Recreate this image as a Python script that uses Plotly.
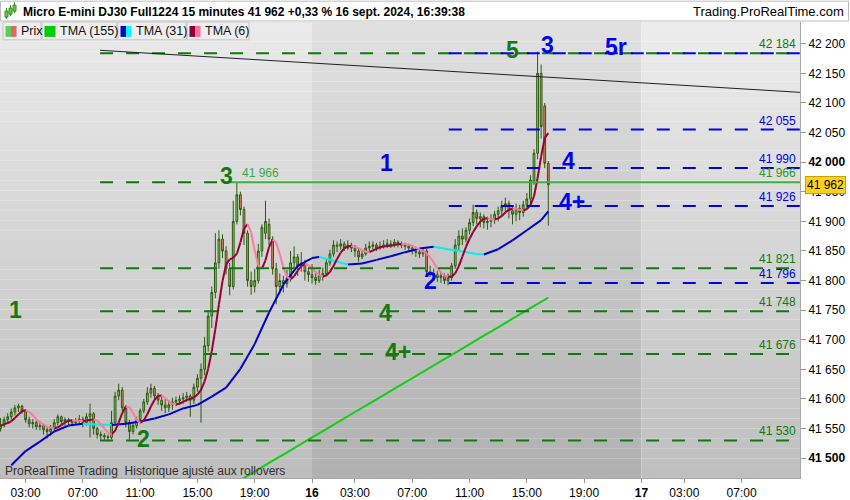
import numpy as np
import pandas as pd
import plotly.graph_objects as go

FONT = "Liberation Sans, Arial, sans-serif"

# 15-minute bars, numbered from 00:00 on the 15th (one-hour break 23:00-00:00)
first_bar = 5
opens = [
    41550, 41555, 41565, 41570, 41578, 41585, 41588, 41580,
    41565, 41558, 41560, 41553, 41555, 41548, 41545, 41550,
    41560, 41570, 41562, 41565, 41563, 41560, 41562, 41566,
    41560, 41570, 41575, 41550, 41540, 41538, 41536, 41535,
    41560, 41605, 41615, 41585, 41560, 41545, 41555, 41565,
    41580, 41595, 41610, 41618, 41605, 41598, 41590, 41585,
    41590, 41595, 41597, 41600, 41602, 41605, 41598, 41620,
    41635, 41650, 41690, 41740, 41780, 41830, 41870, 41850,
    41820, 41790, 41900, 41945, 41920, 41880, 41800, 41790,
    41800, 41850, 41880, 41895, 41870, 41820, 41790, 41800,
    41795, 41805, 41830, 41840, 41825, 41830, 41815, 41810,
    41805, 41800, 41810, 41812, 41830, 41845, 41860, 41858,
    41862, 41855, 41860, 41855, 41850, 41840, 41845, 41855,
    41858, 41860, 41855, 41858, 41860, 41862, 41860, 41865,
    41862, 41860, 41858, 41855, 41850, 41848, 41845, 41850,
    41815, 41812, 41810, 41805, 41808, 41800, 41805, 41825,
    41860, 41875, 41870, 41885, 41898, 41915, 41905, 41908,
    41898, 41900, 41905, 41912, 41918, 41925, 41930, 41918,
    41912, 41922, 41915, 41928, 41938, 41968, 42015, 42150,
    42095, 41998,
]
highs = [
    41568, 41570, 41576, 41584, 41590, 41592, 41590, 41583,
    41570, 41566, 41563, 41562, 41558, 41552, 41556, 41566,
    41574, 41572, 41569, 41568, 41566, 41568, 41573, 41570,
    41576, 41592, 41578, 41553, 41545, 41542, 41540, 41580,
    41612, 41626, 41620, 41590, 41565, 41560, 41570, 41584,
    41600, 41620, 41626, 41622, 41610, 41604, 41600, 41598,
    41602, 41604, 41606, 41610, 41612, 41608, 41626, 41642,
    41660, 41705, 41750, 41790, 41880, 41885, 41878, 41858,
    41830, 41935, 41966, 41950, 41925, 41885, 41815, 41820,
    41862, 41895, 41935, 41905, 41875, 41830, 41812, 41808,
    41818, 41850, 41858, 41845, 41848, 41835, 41822, 41828,
    41812, 41818, 41822, 41838, 41852, 41868, 41866, 41870,
    41866, 41868, 41864, 41860, 41855, 41852, 41862, 41866,
    41866, 41864, 41866, 41868, 41870, 41868, 41870, 41868,
    41866, 41864, 41862, 41860, 41855, 41852, 41856, 41854,
    41825, 41820, 41816, 41815, 41812, 41812, 41830, 41870,
    41885, 41888, 41890, 41905, 41928, 41920, 41915, 41912,
    41908, 41912, 41918, 41925, 41935, 41940, 41935, 41925,
    41930, 41928, 41935, 41948, 41978, 42022, 42187, 42165,
    42100, 42002,
]
lows = [
    41545, 41552, 41558, 41565, 41572, 41578, 41575, 41560,
    41552, 41550, 41548, 41547, 41540, 41533, 41538, 41546,
    41555, 41556, 41555, 41556, 41554, 41556, 41558, 41552,
    41555, 41535, 41540, 41533, 41531, 41530, 41528, 41532,
    41556, 41598, 41580, 41552, 41531, 41540, 41550, 41560,
    41576, 41590, 41602, 41598, 41590, 41580, 41576, 41578,
    41582, 41588, 41590, 41592, 41595, 41570, 41592, 41612,
    41560, 41640, 41680, 41720, 41770, 41820, 41838, 41810,
    41775, 41785, 41895, 41910, 41860, 41790, 41776, 41780,
    41795, 41840, 41870, 41860, 41810, 41760, 41778, 41780,
    41788, 41798, 41820, 41808, 41815, 41800, 41798, 41795,
    41793, 41796, 41800, 41808, 41825, 41840, 41848, 41852,
    41850, 41852, 41848, 41840, 41832, 41836, 41842, 41850,
    41852, 41850, 41852, 41854, 41855, 41855, 41856, 41856,
    41855, 41852, 41848, 41844, 41840, 41838, 41840, 41808,
    41806, 41800, 41798, 41796, 41794, 41792, 41800, 41820,
    41850, 41860, 41865, 41878, 41892, 41895, 41890, 41888,
    41886, 41890, 41896, 41900, 41910, 41916, 41905, 41895,
    41900, 41902, 41908, 41920, 41930, 41962, 42005, 42040,
    41990, 41893,
]
closes = [
    41555, 41565, 41570, 41578, 41585, 41588, 41580, 41565,
    41558, 41560, 41553, 41555, 41548, 41545, 41550, 41560,
    41570, 41562, 41565, 41563, 41560, 41562, 41566, 41560,
    41570, 41575, 41550, 41540, 41538, 41536, 41535, 41560,
    41605, 41615, 41585, 41560, 41545, 41555, 41565, 41580,
    41595, 41610, 41618, 41605, 41598, 41590, 41585, 41590,
    41595, 41597, 41600, 41602, 41605, 41598, 41620, 41635,
    41650, 41690, 41740, 41780, 41830, 41870, 41850, 41820,
    41790, 41900, 41945, 41920, 41880, 41800, 41790, 41800,
    41850, 41890, 41900, 41870, 41820, 41790, 41800, 41795,
    41805, 41830, 41840, 41825, 41830, 41815, 41810, 41805,
    41800, 41810, 41812, 41830, 41845, 41860, 41858, 41862,
    41855, 41860, 41855, 41850, 41840, 41845, 41855, 41858,
    41860, 41855, 41858, 41860, 41862, 41860, 41865, 41862,
    41860, 41858, 41855, 41850, 41848, 41845, 41850, 41815,
    41812, 41810, 41805, 41808, 41800, 41805, 41825, 41860,
    41875, 41870, 41885, 41898, 41915, 41905, 41908, 41898,
    41900, 41905, 41912, 41918, 41925, 41930, 41918, 41912,
    41922, 41915, 41928, 41938, 41970, 42015, 42150, 42060,
    41998, 41962,
]
bars = list(range(first_bar, first_bar + len(closes)))

# TMA (31) and TMA (155), hourly
tma31_bars = [8, 12, 16, 20, 24, 28, 32, 36, 40, 44, 48, 52, 56, 60, 64, 68, 72, 76,
              80, 84, 88, 92, 94, 98, 102, 106, 110, 114, 118, 122, 126, 130, 134,
              138, 140, 144, 148, 152, 156, 158]
tma31_vals = [41488, 41512, 41528, 41545, 41555, 41558, 41557, 41556, 41558, 41562,
              41567, 41574, 41584, 41590, 41604, 41619, 41651, 41693, 41746, 41793,
              41825, 41838, 41840, 41834, 41827, 41829, 41835, 41841, 41848, 41854,
              41857, 41853, 41849, 41845, 41844, 41853, 41868, 41885, 41902, 41917]
tma155_bars = [72, 76, 80, 84, 88, 92, 96, 100, 104, 108, 112, 116, 120, 124, 128,
               132, 136, 140, 144, 148, 152, 156, 158]
tma155_vals = [41463, 41478, 41492, 41506, 41521, 41535, 41549, 41564, 41578, 41592,
               41607, 41621, 41635, 41650, 41664, 41678, 41693, 41707, 41721, 41736,
               41750, 41764, 41771]

green_levels = [42184, 41821, 41748, 41676, 41530]
blue_levels = [42184, 42055, 41990, 41926, 41796]
level_3 = 41966
trend_prices = [42189, 42118]

wave_text = ["1", "2", "3", "4", "4+", "5", "1", "2", "3", "4", "4+", "5r"]
wave_bar = [9.3, 44.8, 68.0, 112.4, 116.0, 147.9, 112.7, 125.0, 157.9, 163.5, 164.6, 176.9]
wave_price = [41751, 41532, 41977, 41746, 41679, 42190, 41999, 41800, 42198, 42002, 41932, 42195]
wave_green = [True] * 6 + [False] * 6

x_ticks = [12, 28, 44, 60, 76, 92, 104, 120, 136, 152, 168, 184, 196, 212]
x_labels = ["03:00", "07:00", "11:00", "15:00", "19:00", "<b>16</b>", "03:00", "07:00",
            "11:00", "15:00", "19:00", "<b>17</b>", "03:00", "07:00"]
y_ticks = list(range(41500, 42201, 50))

X0, X1 = 4.85, 228.3
Y0, Y1 = 41466.5, 42236.8
GREEN = "#0E7A0E"
BLUE = "#0000F0"


def fmt(v):
    return f"{v // 1000} {v % 1000:03d}"


def split_updown(xs, ys):
    up = ([], [])
    dn = ([], [])
    for k in range(len(xs) - 1):
        tgt = up if ys[k + 1] >= ys[k] else dn
        tgt[0].extend([xs[k], xs[k + 1], None])
        tgt[1].extend([ys[k], ys[k + 1], None])
    return up, dn


fig = go.Figure()

fig.add_trace(go.Candlestick(
    x=bars, open=opens, high=highs, low=lows, close=closes,
    increasing=dict(fillcolor="#78DC50", line=dict(color="#2D5A12", width=1)),
    decreasing=dict(fillcolor="#F0806E", line=dict(color="#2D5A12", width=1)),
    whiskerwidth=0, hoverinfo="skip"))

# TMA 155
fig.add_trace(go.Scatter(x=tma155_bars, y=tma155_vals, mode="lines",
                         line=dict(color="#10D010", width=2), hoverinfo="skip"))

# TMA 31: blue rising, cyan falling
up, dn = split_updown(tma31_bars, tma31_vals)
fig.add_trace(go.Scatter(x=up[0], y=up[1], mode="lines", line=dict(color="#0000CC", width=2)))
fig.add_trace(go.Scatter(x=dn[0], y=dn[1], mode="lines", line=dict(color="#00F0F0", width=2)))

# TMA 6 from closes: crimson rising, pink falling
tma6 = pd.Series(closes).rolling(3, min_periods=1).mean().rolling(4, min_periods=1).mean()
up, dn = split_updown(bars, list(tma6.round(1)))
fig.add_trace(go.Scatter(x=up[0], y=up[1], mode="lines", line=dict(color="#990036", width=2)))
fig.add_trace(go.Scatter(x=dn[0], y=dn[1], mode="lines", line=dict(color="#FF78A0", width=2)))

shapes = []
# day shading with a vertical gradient
n_bands = 46
for x_a, x_b, top, bot in [(X0, 92, 234, 190), (92, 184, 225, 176), (184, X1, 237, 190)]:
    for k in range(n_bands):
        g = int(round(bot + (top - bot) * (k + 0.5) / n_bands))
        shapes.append(dict(type="rect", xref="x", yref="paper", x0=x_a, x1=x_b,
                           y0=k / n_bands, y1=(k + 1) / n_bands, layer="below",
                           fillcolor=f"rgb({g},{g},{g})", line=dict(width=0)))

for lv in green_levels:
    shapes.append(dict(type="line", xref="x", yref="y", x0=32.8, x1=X1, y0=lv, y1=lv,
                       line=dict(color=GREEN, width=2, dash="13px,13px")))
shapes.append(dict(type="line", xref="x", yref="y", x0=32.8, x1=69, y0=level_3, y1=level_3,
                   line=dict(color=GREEN, width=2, dash="13px,13px")))
shapes.append(dict(type="line", xref="x", yref="y", x0=69, x1=X1, y0=level_3, y1=level_3,
                   line=dict(color="#3CB43C", width=2)))
for lv in blue_levels:
    shapes.append(dict(type="line", xref="x", yref="y", x0=130.2, x1=X1, y0=lv, y1=lv,
                       line=dict(color=BLUE, width=2, dash="13px,13px")))
shapes.append(dict(type="line", xref="x", yref="y", x0=32.8, x1=X1,
                   y0=trend_prices[0], y1=trend_prices[1], line=dict(color="#202020", width=1)))


# header and legend strip (paper coords: 800 px wide plot, 460 px tall)
def px(x):
    return x / 800


def py(y):
    return (482 - y) / 460


shapes.append(dict(type="rect", xref="paper", yref="paper", x0=px(0.5), x1=px(848.5),
                   y0=py(21), y1=py(1), line=dict(color="#BBBBBB", width=1), fillcolor="white"))
legend_items = [("Prix", 3, 41, ["#58D058", "#E86464"]),
                ("TMA (155)", 42, 117, ["#00CC00", "#00CC00"]),
                ("TMA (31)", 118, 186, ["#0000CC", "#00FFFF"]),
                ("TMA (6)", 187, 249, ["#8B0036", "#FF6A96"])]
annotations = []
for name, xa, xb, cols in legend_items:
    shapes.append(dict(type="rect", xref="paper", yref="paper", x0=px(xa), x1=px(xb),
                       y0=py(40), y1=py(22), fillcolor="#EEEEEE", line=dict(color="#C4C4C4", width=1)))
    shapes.append(dict(type="rect", xref="paper", yref="paper", x0=px(xa + 2.5), x1=px(xa + 8),
                       y0=py(37), y1=py(26), fillcolor=cols[0], line=dict(width=0)))
    shapes.append(dict(type="rect", xref="paper", yref="paper", x0=px(xa + 8), x1=px(xa + 13.5),
                       y0=py(37), y1=py(26), fillcolor=cols[1], line=dict(width=0)))
    annotations.append(dict(xref="paper", yref="paper", x=px(xa + 16), y=py(31), text=name,
                            showarrow=False, xanchor="left", yanchor="middle",
                            font=dict(size=12.5, color="#111")))
# little candle icon
for cx, ya, yb in [(6.5, 17, 9), (10.5, 14, 6), (14.5, 11, 3)]:
    shapes.append(dict(type="line", xref="paper", yref="paper", x0=px(cx), x1=px(cx),
                       y0=py(ya + 2), y1=py(yb - 1), line=dict(color="#3A8A2A", width=1)))
    shapes.append(dict(type="rect", xref="paper", yref="paper", x0=px(cx - 1.5), x1=px(cx + 1.5),
                       y0=py(ya), y1=py(yb + 2), fillcolor="#66CC44", line=dict(color="#3A8A2A", width=1)))

annotations.append(dict(xref="paper", yref="paper", x=px(21), y=py(11.5),
                        text="<b>Micro E-mini DJ30 Full1224 15 minutes 41 962 +0,33 % 16 sept. 2024, 16:39:38</b>",
                        showarrow=False, xanchor="left", yanchor="middle", font=dict(size=12, color="black")))
annotations.append(dict(xref="paper", yref="paper", x=px(846), y=py(11.5), text="Trading.ProRealTime.com",
                        showarrow=False, xanchor="right", yanchor="middle", font=dict(size=13, color="black")))

# level value labels at the right
for lv in green_levels:
    annotations.append(dict(xref="paper", yref="y", x=px(798), y=lv, text=fmt(lv), showarrow=False,
                            xanchor="right", yanchor="bottom", font=dict(size=12, color=GREEN)))
for lv in blue_levels[1:]:
    annotations.append(dict(xref="paper", yref="y", x=px(798), y=lv, text=fmt(lv), showarrow=False,
                            xanchor="right", yanchor="bottom", font=dict(size=12, color=BLUE)))
annotations.append(dict(xref="paper", yref="y", x=px(798), y=level_3, text=fmt(level_3), showarrow=False,
                        xanchor="right", yanchor="bottom", font=dict(size=12, color="#2E962E")))
annotations.append(dict(xref="x", yref="y", x=71.9, y=level_3, text=fmt(level_3), showarrow=False,
                        xanchor="left", yanchor="bottom", font=dict(size=12, color="#3CA83C")))

for t, b, p, g in zip(wave_text, wave_bar, wave_price, wave_green):
    annotations.append(dict(xref="x", yref="y", x=b, y=p, text=f"<b>{t}</b>", showarrow=False,
                            xanchor="center", yanchor="middle",
                            font=dict(family="Liberation Sans Narrow, Arial Narrow, Arial", size=23,
                                      color="#127A12" if g else BLUE)))

annotations.append(dict(xref="paper", yref="paper", x=px(3), y=py(475),
                        text="ProRealTime Trading  Historique ajusté aux rollovers", showarrow=False,
                        xanchor="left", yanchor="middle", font=dict(size=12, color="#303030")))

# last price tag
annotations.append(dict(xref="paper", yref="y", x=1.0, y=closes[-1], text=fmt(closes[-1]),
                        showarrow=False, xanchor="left", yanchor="middle", xshift=5,
                        bgcolor="#FFD21A", bordercolor="#C9A000", borderwidth=1, borderpad=1,
                        font=dict(size=12, color="black")))

fig.update_layout(
    width=850, height=500,
    margin=dict(l=0, r=50, t=22, b=18),
    paper_bgcolor="white", plot_bgcolor="white",
    showlegend=False,
    font=dict(family=FONT, size=12, color="black"),
    shapes=shapes, annotations=annotations,
    xaxis=dict(range=[X0, X1], tickvals=x_ticks, ticktext=x_labels, ticks="outside", ticklen=4,
               tickcolor="#999999", showgrid=False, zeroline=False, showline=True,
               linecolor="#A8A8A8", rangeslider=dict(visible=False), tickfont=dict(size=12)),
    yaxis=dict(range=[Y0, Y1], side="right", tickvals=y_ticks,
               ticktext=[f"<b>{fmt(v)}</b>" if v % 500 == 0 else fmt(v) for v in y_ticks],
               ticks="outside", ticklen=5, tickcolor="#999999", showgrid=False, zeroline=False,
               showline=True, linecolor="#A8A8A8", tickfont=dict(size=12)),
)

# the page is photographed edge to edge, so drop the browser's default body margin
fig.write_html("out.html", config={"displayModeBar": False},
               post_script="document.body.style.margin='0';")
